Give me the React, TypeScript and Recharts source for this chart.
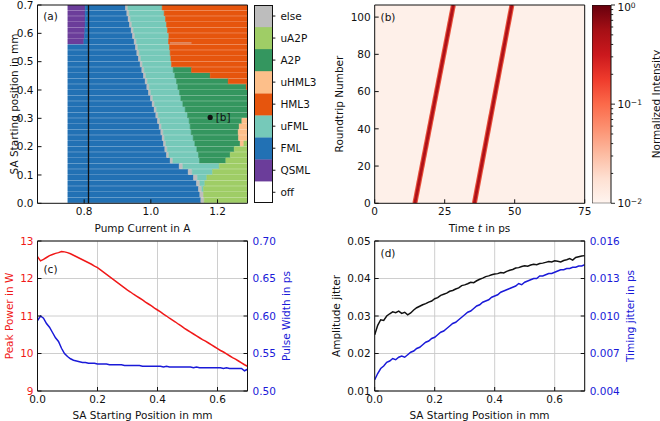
import React from 'react';
import {
  ComposedChart, Bar, Line, XAxis, YAxis, CartesianGrid,
  ReferenceLine, ReferenceDot, ReferenceArea,
} from 'recharts';

const FONT = "'DejaVu Sans', sans-serif";
const FS = 10.5;
const INK = '#111111';
const RED = '#f01818';
const BLUE = '#1a1ad8';

// ---------------- panel (a): operating-mode map ----------------
const rowY = [0.01,0.03,0.05,0.07,0.09,0.11,0.13,0.15,0.17,0.19,0.21,0.23,0.25,0.27,0.29,0.31,0.33,0.35,0.37,0.39,0.41,0.43,0.45,0.47,0.49,0.51,0.53,0.55,0.57,0.59,0.61,0.63,0.65,0.67,0.69];
const offEnd = [0.751,0.751,0.751,0.751,0.751,0.751,0.751,0.751,0.751,0.751,0.751,0.751,0.751,0.751,0.751,0.751,0.751,0.751,0.751,0.751,0.751,0.751,0.751,0.751,0.751,0.751,0.751,0.751,0.751,0.751,0.751,0.751,0.751,0.751,0.751];
const qsmlEnd = [0.751,0.751,0.751,0.751,0.751,0.751,0.751,0.751,0.751,0.751,0.751,0.751,0.751,0.751,0.751,0.751,0.751,0.751,0.751,0.751,0.751,0.751,0.751,0.751,0.751,0.751,0.751,0.751,0.799,0.801,0.802,0.803,0.803,0.803,0.803];
const fmlEnd = [1.150,1.147,1.143,1.137,1.128,1.112,1.085,1.058,1.047,1.042,1.038,1.034,1.030,1.025,1.020,1.015,1.010,1.004,0.999,0.993,0.988,0.983,0.978,0.973,0.968,0.963,0.958,0.954,0.950,0.945,0.941,0.936,0.932,0.928,0.924];
const elseEnd = [1.160,1.158,1.153,1.147,1.140,1.124,1.096,1.066,1.054,1.049,1.045,1.041,1.037,1.032,1.027,1.022,1.017,1.011,1.006,1.000,0.995,0.990,0.985,0.980,0.975,0.970,0.965,0.961,0.957,0.952,0.948,0.943,0.939,0.935,0.931];
const ufmlEnd = [1.160,1.158,1.158,1.162,1.168,1.185,1.205,1.146,1.143,1.138,1.132,1.127,1.121,1.118,1.115,1.110,1.103,1.096,1.090,1.086,1.081,1.077,1.072,1.067,1.062,1.060,1.058,1.056,1.053,1.054,1.050,1.047,1.044,1.040,1.034];
const a2pEnd = [1.160,1.158,1.158,1.162,1.168,1.185,1.205,1.225,1.238,1.250,1.268,1.263,1.262,1.265,1.273,1.290,1.290,1.290,1.290,1.290,1.286,1.232,1.178,1.122,1.062,1.060,1.058,1.056,1.053,1.054,1.050,1.047,1.044,1.040,1.034];
const hml3End = [1.160,1.158,1.158,1.162,1.168,1.185,1.205,1.225,1.238,1.250,1.268,1.263,1.262,1.265,1.273,1.290,1.290,1.290,1.290,1.290,1.290,1.290,1.290,1.290,1.290,1.290,1.290,1.290,1.290,1.290,1.290,1.290,1.290,1.290,1.290];
const uhml3End = [1.160,1.158,1.158,1.162,1.168,1.185,1.205,1.225,1.238,1.250,1.279,1.290,1.290,1.290,1.290,1.290,1.290,1.290,1.290,1.290,1.290,1.290,1.290,1.290,1.290,1.290,1.290,1.290,1.290,1.290,1.290,1.290,1.290,1.290,1.290];
const ua2pEnd = [1.290,1.290,1.290,1.290,1.290,1.290,1.290,1.290,1.290,1.290,1.290,1.290,1.290,1.290,1.290,1.290,1.290,1.290,1.290,1.290,1.290,1.290,1.290,1.290,1.290,1.290,1.290,1.290,1.290,1.290,1.290,1.290,1.290,1.290,1.290];

const stackOrder = ['off', 'QSML', 'FML', 'else', 'uFML', 'A2P', 'HML3', 'uHML3', 'uA2P'];
const stackEdges = [offEnd, qsmlEnd, fmlEnd, elseEnd, ufmlEnd, a2pEnd, hml3End, uhml3End, ua2pEnd];
const modeColor: Record<string, string> = {
  off: '#ffffff', QSML: '#6b3d9a', FML: '#2271b4', else: '#bdbdbd', uFML: '#76c9b9',
  A2P: '#34965f', HML3: '#e6550d', uHML3: '#fdbf8a', uA2P: '#9fcd66',
};
const colorbarOrder = ['off', 'QSML', 'FML', 'uFML', 'HML3', 'uHML3', 'A2P', 'uA2P', 'else'];

const mapRows = rowY.map((y, i) => {
  const r: Record<string, number> = { y };
  let prev = 0;
  stackOrder.forEach((m, k) => {
    const e = stackEdges[k][i];
    r[m] = Math.max(0, +(e - prev).toFixed(4));
    prev = Math.max(prev, e);
  });
  return r;
});
const colorbarRow = [Object.fromEntries([['k', 'cb'], ...colorbarOrder.map((m) => [m, 1])])];

const mapXTicks = [0.8, 1.0, 1.2];
const mapYTicks = [0, 0.1, 0.2, 0.3, 0.4, 0.5, 0.6, 0.7];
const pointB = { current: 1.178, position: 0.303 };
const currentLine = 0.813;

// ---------------- panel (b): pulse trace ----------------
const roundtrips = [0, 106.5];
const pulse1Times = [14.35, 28.1];
const pulse2Times = [35.6, 49.0];
const pulses = [pulse1Times, pulse2Times].map((ts) => ts.map((t, i) => ({ t, n: roundtrips[i] })));
const timeTicks = [0, 25, 50, 75];
const roundTicks = [0, 20, 40, 60, 80, 100];
const intensityRange = [{ k: 'cb', v: [0.01, 1] }];
const intensityMajor = [0.01, 0.1, 1];
const intensityMajorExp = ['−2', '−1', '0'];
const intensityAllTicks = [0.01,0.02,0.03,0.04,0.05,0.06,0.07,0.08,0.09,0.1,0.2,0.3,0.4,0.5,0.6,0.7,0.8,0.9,1];
const redsStops = ['#fff5f0', '#fee0d2', '#fcbba1', '#fc9272', '#fb6a4a', '#ef3b2c', '#cb181d', '#a50f15', '#67000d'];

// ---------------- panels (c), (d) ----------------
const posX = [0.00,0.01,0.02,0.03,0.04,0.05,0.06,0.07,0.08,0.09,0.10,0.11,0.12,0.13,0.14,0.15,0.16,0.17,0.18,0.19,0.20,0.21,0.22,0.23,0.24,0.25,0.26,0.27,0.28,0.29,0.30,0.31,0.32,0.33,0.34,0.35,0.36,0.37,0.38,0.39,0.40,0.41,0.42,0.43,0.44,0.45,0.46,0.47,0.48,0.49,0.50,0.51,0.52,0.53,0.54,0.55,0.56,0.57,0.58,0.59,0.60,0.61,0.62,0.63,0.64,0.65,0.66,0.67,0.68,0.69,0.70];
const peakPower = [
  12.58,12.47,12.51,12.56,12.61,12.64,12.67,12.69,12.72,12.71,
  12.69,12.66,12.62,12.58,12.54,12.50,12.46,12.42,12.38,12.33,
  12.29,12.23,12.17,12.11,12.05,11.99,11.93,11.87,11.81,11.75,
  11.69,11.64,11.58,11.53,11.48,11.43,11.37,11.32,11.27,11.21,
  11.16,11.11,11.05,11.00,10.94,10.89,10.84,10.78,10.73,10.67,
  10.62,10.57,10.52,10.47,10.42,10.37,10.33,10.28,10.23,10.18,
  10.13,10.08,10.04,9.99,9.94,9.89,9.85,9.80,9.75,9.70,
  9.66];
const pulseWidth = [
  0.594,0.600,0.597,0.590,0.585,0.578,0.571,0.566,0.557,0.550,
  0.546,0.543,0.541,0.540,0.539,0.538,0.538,0.537,0.537,0.537,
  0.536,0.536,0.536,0.536,0.535,0.535,0.535,0.535,0.535,0.534,
  0.534,0.534,0.534,0.534,0.534,0.533,0.533,0.533,0.533,0.533,
  0.533,0.533,0.532,0.533,0.532,0.532,0.532,0.532,0.532,0.532,
  0.532,0.532,0.531,0.532,0.531,0.531,0.531,0.531,0.531,0.531,
  0.531,0.531,0.530,0.531,0.530,0.530,0.530,0.530,0.530,0.527,
  0.529];
const ampJitter = [
  0.0250,0.0275,0.0290,0.0288,0.0300,0.0306,0.0311,0.0309,0.0313,0.0307,
  0.0310,0.0303,0.0308,0.0316,0.0322,0.0326,0.0330,0.0333,0.0337,0.0340,
  0.0346,0.0349,0.0355,0.0358,0.0361,0.0366,0.0368,0.0372,0.0375,0.0381,
  0.0383,0.0386,0.0390,0.0389,0.0394,0.0398,0.0401,0.0405,0.0407,0.0410,
  0.0412,0.0413,0.0416,0.0415,0.0419,0.0422,0.0424,0.0428,0.0429,0.0432,
  0.0434,0.0433,0.0436,0.0438,0.0437,0.0440,0.0441,0.0443,0.0445,0.0444,
  0.0447,0.0446,0.0444,0.0448,0.0450,0.0453,0.0449,0.0456,0.0458,0.0460,
  0.0461];
const timingJitter = [
  0.0049,0.0054,0.0058,0.0060,0.0063,0.0064,0.0066,0.0065,0.0067,0.0068,
  0.0067,0.0069,0.0071,0.0072,0.0074,0.0075,0.0077,0.0079,0.0080,0.0082,
  0.0083,0.0085,0.0087,0.0088,0.0090,0.0092,0.0094,0.0095,0.0097,0.0099,
  0.0101,0.0103,0.0104,0.0106,0.0108,0.0109,0.0111,0.0112,0.0113,0.0115,
  0.0116,0.0117,0.0119,0.0120,0.0121,0.0122,0.0123,0.0124,0.0126,0.0125,
  0.0127,0.0128,0.0129,0.0130,0.0130,0.0132,0.0132,0.0133,0.0134,0.0134,
  0.0135,0.0136,0.0137,0.0137,0.0138,0.0138,0.0139,0.0139,0.0140,0.0140,
  0.0141];
const lowerRows = posX.map((x, i) => ({
  x, power: peakPower[i], width: pulseWidth[i], amp: ampJitter[i], timing: timingJitter[i],
}));
const posTicks = [0, 0.2, 0.4, 0.6];
const powerTicks = [9, 10, 11, 12, 13];
const widthTicks = [0.5, 0.55, 0.6, 0.65, 0.7];
const ampTicks = [0.01, 0.02, 0.03, 0.04, 0.05];
const timingTicks = [0.004, 0.007, 0.01, 0.013, 0.016];

// ---------------- helpers ----------------
const tickStyle = (fill = INK) => ({ fontSize: FS, fill, fontFamily: FONT });
const spine = { stroke: INK, strokeWidth: 1 };

function Txt({ x, y, children, color = INK, rotate = false }: any) {
  return (
    <div style={{
      position: 'absolute', left: x, top: y,
      transform: `translate(-50%, -50%)${rotate ? ' rotate(-90deg)' : ''}`,
      whiteSpace: 'nowrap', fontFamily: FONT, fontSize: FS, color, lineHeight: 1,
    }}>{children}</div>
  );
}

function IntensityTick(props: any) {
  const { x, y, payload } = props;
  const mi = intensityMajor.findIndex((m) => Math.abs(m - payload.value) < 1e-9);
  const major = mi >= 0;
  return (
    <g>
      <line x1={x} x2={x + (major ? 4 : 2.2)} y1={y} y2={y} stroke={INK} strokeWidth={0.9} />
      {major && (
        <text x={x + 6.5} y={y} dy={mi === 2 ? '0.55em' : '0.35em'} fontSize={FS} fontFamily={FONT} fill={INK}>
          10<tspan dy="-0.4em" fontSize={FS * 0.72}>{intensityMajorExp[mi]}</tspan>
        </text>
      )}
    </g>
  );
}

function PanelA() {
  return (
    <ComposedChart width={250} height={234} data={mapRows} layout="vertical"
      margin={{ top: 5, right: 2.5, left: 0, bottom: 0 }} barCategoryGap={0} barGap={0} barSize={5.9}>
      {stackOrder.map((m) => (
        <Bar key={m} dataKey={m} stackId="map"
          fill={m === 'off' ? 'none' : modeColor[m]}
          stroke={m === 'off' ? 'none' : modeColor[m]} strokeWidth={0.5}
          isAnimationActive={false} />
      ))}
      <ReferenceLine x={currentLine} stroke={INK} strokeWidth={1.3} />
      <ReferenceLine segment={[{ x: 1.057, y: 0.566 }, { x: 1.122, y: 0.566 }]} stroke="#dcb4a6" strokeWidth={1} />
      <ReferenceDot x={pointB.current} y={pointB.position} r={2.6} fill={INK} stroke="none"
        label={{ value: '[b]', position: 'right', offset: 3, fontSize: FS, fill: INK, fontFamily: FONT }} />
      <XAxis type="number" domain={[0.66, 1.29]} allowDataOverflow ticks={mapXTicks} interval={0}
        tickFormatter={(v: number) => v.toFixed(1)} height={30.7} tickSize={-4} tickMargin={8.5}
        tick={tickStyle()} axisLine={spine} tickLine={spine} />
      <XAxis xAxisId="top" orientation="top" mirror type="number" domain={[0.66, 1.29]} allowDataOverflow
        ticks={mapXTicks} interval={0} tick={false} tickSize={4} axisLine={spine} tickLine={spine} />
      <YAxis type="number" dataKey="y" reversed domain={[0, 0.7]} allowDataOverflow ticks={mapYTicks} interval={0}
        tickFormatter={(v: number) => v.toFixed(1)} width={37.5} tickSize={-4} tickMargin={8}
        tick={tickStyle()} axisLine={spine} tickLine={spine} />
      <YAxis yAxisId="right" orientation="right" mirror reversed type="number" domain={[0, 0.7]} allowDataOverflow
        ticks={[0.1, 0.2, 0.3, 0.4, 0.5, 0.6]} interval={0} tick={false} tickSize={4} axisLine={spine} tickLine={spine} />
    </ComposedChart>
  );
}

function ColorbarA() {
  return (
    <ComposedChart width={70} height={208.3} data={colorbarRow}
      margin={{ top: 5, right: 0, left: 0, bottom: 5 }} barCategoryGap={0} barGap={0}>
      {colorbarOrder.map((m) => (
        <Bar key={m} dataKey={m} stackId="cb" fill={modeColor[m]} stroke={modeColor[m]} strokeWidth={0.3}
          isAnimationActive={false} />
      ))}
      <XAxis dataKey="k" type="category" hide />
      <YAxis orientation="right" type="number" domain={[0, 9]} allowDataOverflow
        ticks={[0.5, 1.5, 2.5, 3.5, 4.5, 5.5, 6.5, 7.5, 8.5]} interval={0}
        tickFormatter={(v: number) => colorbarOrder[Math.floor(v)]}
        width={51.6} tickSize={3} tickMargin={5} axisLine={false} tickLine={spine} tick={tickStyle()} />
    </ComposedChart>
  );
}

function PanelB() {
  return (
    <ComposedChart width={268} height={234} margin={{ top: 5, right: 13.3, left: 0, bottom: 0 }}>
      <ReferenceArea x1={0} x2={75} y1={0} y2={106.5} fill="#fef0e9" fillOpacity={1} stroke="none" />
      {pulses.map((p, i) => (
        <Line key={`h${i}`} data={p} dataKey="n" type="linear" stroke="#e8503a" strokeWidth={5}
          dot={false} isAnimationActive={false} />
      ))}
      {pulses.map((p, i) => (
        <Line key={`c${i}`} data={p} dataKey="n" type="linear" stroke="#b01219" strokeWidth={2.8}
          dot={false} isAnimationActive={false} />
      ))}
      <XAxis type="number" dataKey="t" domain={[0, 75]} allowDataOverflow ticks={timeTicks} interval={0}
        height={30.7} tickSize={-4} tickMargin={8.5} tick={tickStyle()} axisLine={spine} tickLine={spine} />
      <XAxis xAxisId="top" orientation="top" mirror type="number" domain={[0, 75]} allowDataOverflow
        ticks={[25, 50]} interval={0} tick={false} tickSize={4} axisLine={spine} tickLine={spine} />
      <YAxis type="number" domain={[0, 106.5]} allowDataOverflow ticks={roundTicks} interval={0} width={44.7}
        tickSize={-4} tickMargin={8} tick={tickStyle()} axisLine={spine} tickLine={spine} />
      <YAxis yAxisId="right" orientation="right" mirror type="number" domain={[0, 106.5]} allowDataOverflow
        ticks={[20, 40, 60, 80, 100]} interval={0} tick={false} tickSize={4} axisLine={spine} tickLine={spine} />
    </ComposedChart>
  );
}

function ColorbarB() {
  return (
    <ComposedChart width={68.5} height={208.3} data={intensityRange}
      margin={{ top: 5, right: 0, left: 0, bottom: 5 }} barCategoryGap={0} barGap={0}>
      <defs>
        <linearGradient id="redsGrad" x1="0" y1="1" x2="0" y2="0">
          {redsStops.map((c, i) => (
            <stop key={c} offset={`${(i / (redsStops.length - 1)) * 100}%`} stopColor={c} />
          ))}
        </linearGradient>
      </defs>
      <Bar dataKey="v" fill="url(#redsGrad)" stroke={INK} strokeWidth={1} isAnimationActive={false} />
      <XAxis dataKey="k" type="category" hide />
      <YAxis orientation="right" type="number" scale="log" domain={[0.01, 1]} allowDataOverflow
        ticks={intensityAllTicks} interval={0} width={49.5} tickSize={0} tickMargin={0} axisLine={false}
        tickLine={false} tick={(p: any) => <IntensityTick {...p} />} />
    </ComposedChart>
  );
}

function PanelC() {
  return (
    <ComposedChart width={288} height={175} data={lowerRows} margin={{ top: 5, right: 0, left: 0, bottom: 0 }}>
      <CartesianGrid yAxisId="l" stroke="#c8c8c8" strokeWidth={0.9} />
      <Line yAxisId="l" dataKey="power" type="linear" stroke={RED} strokeWidth={1.5} dot={false} isAnimationActive={false} />
      <Line yAxisId="r" dataKey="width" type="linear" stroke={BLUE} strokeWidth={1.5} dot={false} isAnimationActive={false} />
      <XAxis type="number" dataKey="x" domain={[0, 0.7]} allowDataOverflow ticks={posTicks} interval={0}
        tickFormatter={(v: number) => v.toFixed(1)} height={20} tickSize={-4} tickMargin={9}
        tick={tickStyle()} axisLine={spine} tickLine={spine} />
      <XAxis xAxisId="top" orientation="top" mirror type="number" domain={[0, 0.7]} allowDataOverflow
        ticks={[0.2, 0.4, 0.6]} interval={0} tick={false} tickSize={4} axisLine={spine} tickLine={spine} />
      <YAxis yAxisId="l" type="number" domain={[9, 13]} allowDataOverflow ticks={powerTicks} interval={0} width={37.5}
        tickSize={-4} tickMargin={8} tick={tickStyle(RED)} axisLine={spine} tickLine={spine} />
      <YAxis yAxisId="r" orientation="right" type="number" domain={[0.5, 0.7]} allowDataOverflow
        ticks={widthTicks} interval={0} tickFormatter={(v: number) => v.toFixed(2)} width={40.5}
        tickSize={-4} tickMargin={9} tick={tickStyle(BLUE)} axisLine={spine} tickLine={spine} />
    </ComposedChart>
  );
}

function PanelD() {
  return (
    <ComposedChart width={300} height={175} data={lowerRows} margin={{ top: 5, right: 0, left: 0, bottom: 0 }}>
      <CartesianGrid yAxisId="l" stroke="#c8c8c8" strokeWidth={0.9} />
      <Line yAxisId="l" dataKey="amp" type="linear" stroke={INK} strokeWidth={1.5} dot={false} isAnimationActive={false} />
      <Line yAxisId="r" dataKey="timing" type="linear" stroke={BLUE} strokeWidth={1.5} dot={false} isAnimationActive={false} />
      <XAxis type="number" dataKey="x" domain={[0, 0.7]} allowDataOverflow ticks={posTicks} interval={0}
        tickFormatter={(v: number) => v.toFixed(1)} height={20} tickSize={-4} tickMargin={9}
        tick={tickStyle()} axisLine={spine} tickLine={spine} />
      <XAxis xAxisId="top" orientation="top" mirror type="number" domain={[0, 0.7]} allowDataOverflow
        ticks={[0.2, 0.4, 0.6]} interval={0} tick={false} tickSize={4} axisLine={spine} tickLine={spine} />
      <YAxis yAxisId="l" type="number" domain={[0.01, 0.05]} allowDataOverflow ticks={ampTicks} interval={0}
        tickFormatter={(v: number) => v.toFixed(2)} width={44.7}
        tickSize={-4} tickMargin={8} tick={tickStyle()} axisLine={spine} tickLine={spine} />
      <YAxis yAxisId="r" orientation="right" type="number" domain={[0.004, 0.016]} allowDataOverflow
        ticks={timingTicks} interval={0} tickFormatter={(v: number) => v.toFixed(3)} width={45.3}
        tickSize={-4} tickMargin={9} tick={tickStyle(BLUE)} axisLine={spine} tickLine={spine} />
    </ComposedChart>
  );
}

export default function App() {
  const abs = (left: number, top: number): React.CSSProperties => ({ position: 'absolute', left, top });
  return (
    <div style={{ position: 'absolute', left: 0, top: 0, width: 660, height: 421, background: '#fff', overflow: 'hidden', fontFamily: FONT }}>
      <div style={abs(0, 0)}><PanelA /></div>
      <div style={abs(254.3, 0)}><ColorbarA /></div>
      <div style={{ position: 'absolute', left: 254.3, top: 5, width: 18.4, height: 198.3, border: `1px solid ${INK}`, boxSizing: 'border-box' }} />
      <div style={abs(330, 0)}><PanelB /></div>
      <div style={abs(591.5, 0)}><ColorbarB /></div>
      <div style={abs(0, 235.8)}><PanelC /></div>
      <div style={abs(330, 235.8)}><PanelD /></div>

      <Txt x={50.5} y={16}>(a)</Txt>
      <Txt x={388} y={16.5}>(b)</Txt>
      <Txt x={50.5} y={269}>(c)</Txt>
      <Txt x={388} y={252.5}>(d)</Txt>

      <Txt x={142.5} y={228}>Pump Current in A</Txt>
      <Txt x={13.5} y={104} rotate>SA Starting position in mm</Txt>
      <Txt x={479.5} y={228}>Time <i>t</i> in ps</Txt>
      <Txt x={338.5} y={104} rotate>Roundtrip Number</Txt>
      <Txt x={655.5} y={104} rotate>Normalized Intensity</Txt>

      <Txt x={8.5} y={316} rotate color={RED}>Peak Power in W</Txt>
      <Txt x={286} y={316} rotate color={BLUE}>Pulse Width in ps</Txt>
      <Txt x={142.5} y={415}>SA Starting Position in mm</Txt>
      <Txt x={336} y={316} rotate>Amplitude jitter</Txt>
      <Txt x={630} y={316} rotate color={BLUE}>Timing jitter in ps</Txt>
      <Txt x={479.5} y={415}>SA Starting Position in mm</Txt>
    </div>
  );
}
